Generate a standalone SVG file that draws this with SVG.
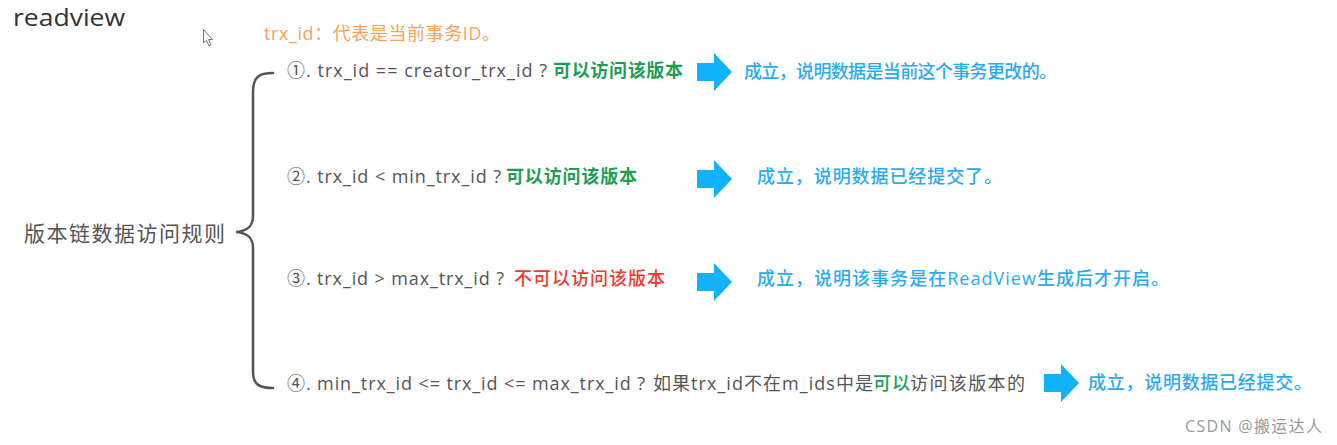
<svg xmlns="http://www.w3.org/2000/svg" width="1337" height="445" viewBox="0 0 1337 445">
<defs>
<style>
text{font-family:"Open Sans","Noto Sans CJK SC",sans-serif;font-size:18px}
.g{fill:#555}
.gr{fill:#1e9e55;font-weight:600}
.rd{fill:#f0392b;font-weight:500}
.bl{fill:#2aaaf2;font-weight:500}
.ar{fill:#12b2fb}
.br{fill:none;stroke:#555;stroke-width:2.5;stroke-linecap:round}
</style>
<polygon id="arrow" points="0,-9 17,-9 17,-19 35,0 17,19 17,9 0,9"/>
</defs>
<rect width="1337" height="445" fill="#fff"/>
<text x="13" y="26" style="font-size:24px" fill="#333" textLength="112" lengthAdjust="spacingAndGlyphs">readview</text>
<path d="M203.5,29.5 L203.5,43 L206.5,40.5 L209,46 L211,45 L208.5,39.5 L212.5,39.5 Z" fill="#fff" stroke="#777" stroke-width="1"/>
<text x="264" y="40" style="font-size:18px" fill="#f7a35c" textLength="236">trx_id：代表是当前事务ID。</text>
<g id="root"><text x="24" y="241" class="g" style="font-size:21px" textLength="201">版本链数据访问规则</text></g>
<g id="connectors">
<path class="br" d="M273,73 C260,73 253,76 253,92 L253,216 C253,226 248,231 236,232 C248,233 253,238 253,248 L253,372 C253,385 260,388 273,388"/>
<use href="#arrow" class="ar" x="697" y="72"/>
<use href="#arrow" class="ar" x="697" y="179"/>
<use href="#arrow" class="ar" x="697" y="282"/>
<use href="#arrow" class="ar" x="1044" y="383"/>
</g>
<g id="rule1">
<text x="287" y="77" class="g" textLength="260">①. trx_id  == creator_trx_id ?</text>
<text x="553" y="77" class="gr" textLength="130">可以访问该版本</text>
</g>
<g id="result1"><text x="744" y="78" class="bl" textLength="313">成立，说明数据是当前这个事务更改的。</text></g>
<g id="rule2">
<text x="287" y="183" class="g" textLength="214">②. trx_id &lt; min_trx_id ?</text>
<text x="506" y="183" class="gr" textLength="131">可以访问该版本</text>
</g>
<g id="result2"><text x="757" y="183" class="bl" textLength="245">成立，说明数据已经提交了。</text></g>
<g id="rule3">
<text x="287" y="285" class="g" textLength="217">③. trx_id &gt; max_trx_id ?</text>
<text x="514" y="285" class="rd" textLength="151">不可以访问该版本</text>
</g>
<g id="result3"><text x="757" y="285" class="bl" textLength="412">成立，说明该事务是在ReadView生成后才开启。</text></g>
<g id="rule4">
<text x="287" y="390" class="g" textLength="358">④. min_trx_id &lt;= trx_id &lt;= max_trx_id ?</text>
<text x="653" y="390" class="g" textLength="220">如果trx_id不在m_ids中是</text>
<text x="873" y="390" class="gr" style="font-weight:500" textLength="37">可以</text>
<text x="910" y="390" class="g" textLength="115">访问该版本的</text>
</g>
<g id="result4"><text x="1088" y="389" class="bl" textLength="224">成立，说明数据已经提交。</text></g>
<text x="1185" y="432" style="font-size:16px" fill="#999" textLength="137">CSDN @搬运达人</text>
</svg>
